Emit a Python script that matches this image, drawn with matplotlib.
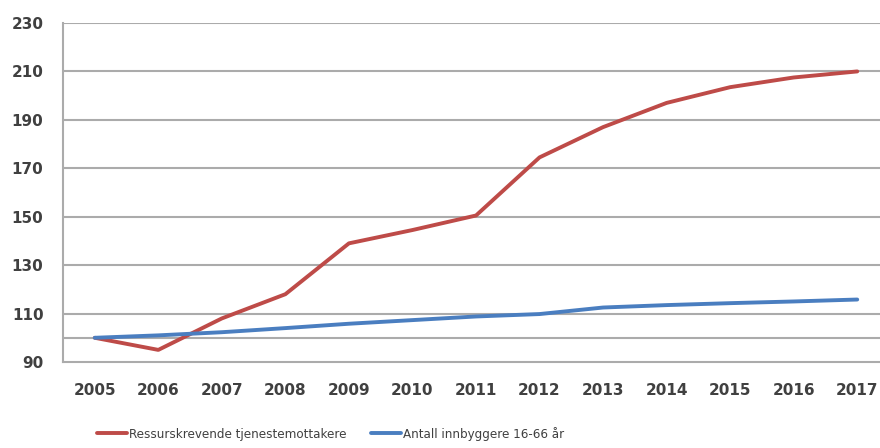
import matplotlib
matplotlib.use("Agg")
import matplotlib.pyplot as plt

years = [str(y) for y in range(2005, 2018)]
ressurskrevende = [100, 95, 108, 118, 139, 144.5, 150.5, 174.5, 187, 197, 203.5, 207.5, 210]
innbyggere = [100, 101, 102.3, 104, 105.8, 107.3, 108.8, 109.8, 112.5, 113.5, 114.3, 115, 115.8]

red = "#BE4B48"
blue = "#4A7EC0"
grid_col = "#ABABAB"
text_col = "#404040"

fig = plt.figure(figsize=(8.8, 4.48), dpi=100)
ax = fig.add_axes([63 / 880, 86 / 448, 826 / 880, 339 / 448])

x = list(range(len(years)))
ax.plot(x, ressurskrevende, color=red, lw=2.8, label="Ressurskrevende tjenestemottakere",
        solid_capstyle="round", zorder=3)
ax.plot(x, innbyggere, color=blue, lw=2.8, label="Antall innbyggere 16-66 år",
        solid_capstyle="round", zorder=3)

ax.set_xlim(-0.5, len(years) - 0.5)
ax.set_ylim(90, 230)
ax.set_yticks(range(90, 231, 20))
ax.set_xticks(x)
ax.set_xticklabels(years)

# horizontal gridlines, plus the category axis crossing at 100
for v in range(110, 231, 20):
    ax.axhline(v, color=grid_col, lw=1.5, zorder=1)
ax.axhline(100, color=grid_col, lw=1.5, zorder=1)

for s in ["top", "right"]:
    ax.spines[s].set_visible(False)
for s in ["left", "bottom"]:
    ax.spines[s].set_color(grid_col)
    ax.spines[s].set_linewidth(1.5)

ax.tick_params(length=0, labelsize=11, labelcolor=text_col)
ax.tick_params(axis="y", pad=14)
ax.tick_params(axis="x", pad=15)
for lbl in ax.get_xticklabels() + ax.get_yticklabels():
    lbl.set_fontweight("bold")

fig.legend(loc="center left", bbox_to_anchor=(85 / 880, 1 - 434 / 448), ncol=2, frameon=False,
           handlelength=2.3, handletextpad=0.1, columnspacing=1.9,
           prop={"size": 9.5, "stretch": "condensed"}, labelcolor=text_col)

fig.savefig("out.png", dpi=100)
